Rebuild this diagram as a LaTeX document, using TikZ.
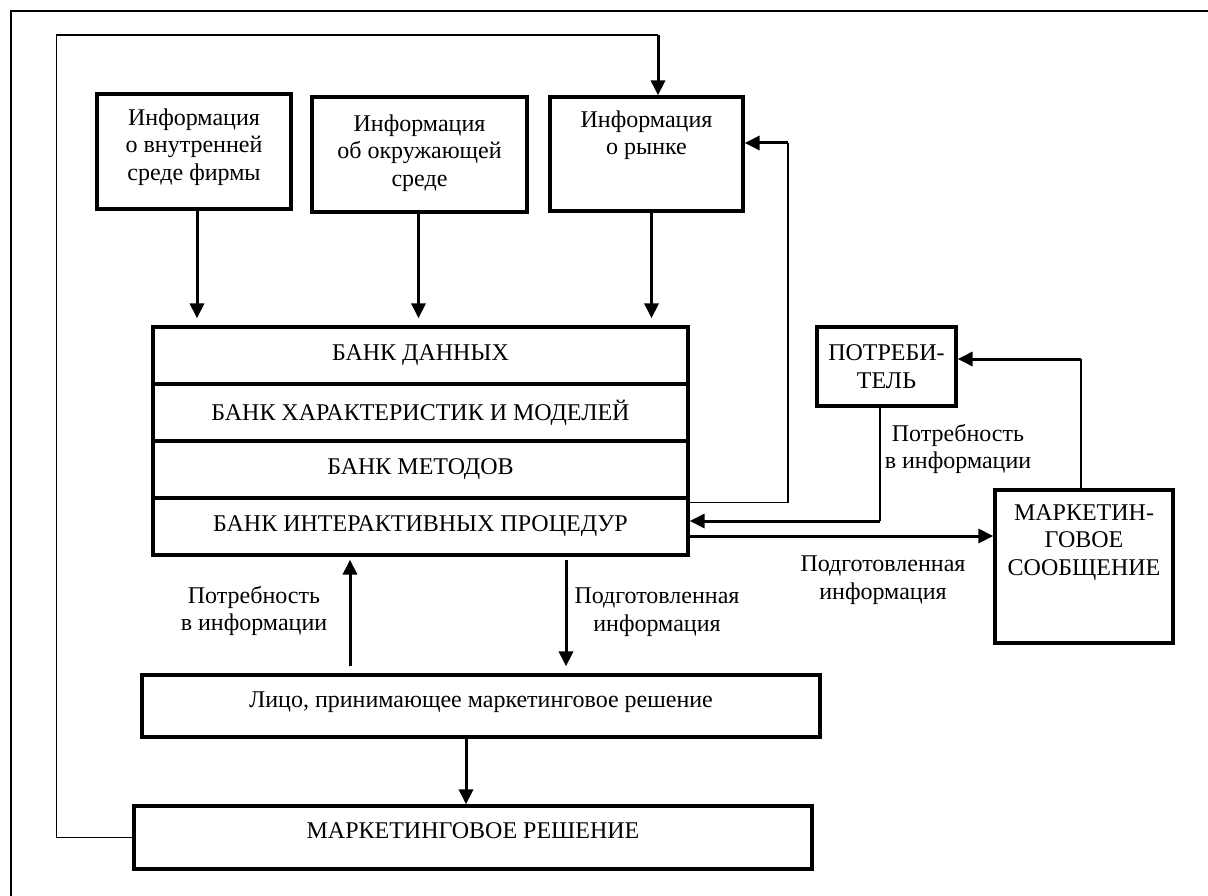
\documentclass[tikz,border=0pt]{standalone}
\usepackage{fontspec}
\setmainfont{Liberation Serif}
\usetikzlibrary{arrows.meta,positioning}

\begin{document}
\begin{tikzpicture}[x=1pt,y=-1pt,
  box/.style={draw, line width=3.2pt, inner sep=0pt},
  txt/.style={align=center, inner sep=0pt, font=\fontsize{24}{27.5}\selectfont},
  wire/.style={line width=1.3pt},
  flow/.style={line width=3pt, -{Triangle[length=15pt,width=14pt]}}]
\useasboundingbox (0,0) rectangle (1208,896);
\draw[line width=2pt] (11,896) -- (11,11) -- (1208,11);

% sources of information
\node[box, minimum width=194, minimum height=115] (inf1) at (194,151.5) {};
\node[box, minimum width=215, minimum height=115] (inf2) at (419.5,154.5) {};
\node[box, minimum width=193, minimum height=114] (inf3) at (646.5,154) {};
\node[txt, below=16pt of inf1.north] (inf1t) {Информация\\о внутренней\\среде фирмы};
\node[txt, below=19pt of inf2.north] (inf2t) {Информация\\об окружающей\\среде};
\node[txt, below=15pt of inf3.north] (inf3t) {Информация\\о рынке};

% banks
\foreach \i/\t in {1/БАНК ДАННЫХ,2/БАНК ХАРАКТЕРИСТИК И МОДЕЛЕЙ,3/БАНК МЕТОДОВ,4/БАНК ИНТЕРАКТИВНЫХ ПРОЦЕДУР} {
\node[box, txt, minimum width=535, minimum height=57] (bank\i) at (420.5,298.5+57*\i) {\t};
}

\node[box, txt, text depth=12pt, minimum width=678, minimum height=62] (lico) at (481,706) {Лицо, принимающее маркетинговое решение};
\node[box, txt, text depth=13pt, minimum width=678, minimum height=63] (mr) at (473,837.5) {МАРКЕТИНГОВОЕ РЕШЕНИЕ};
\node[box, txt, minimum width=139, minimum height=79] (pot) at (886.5,366.5) {ПОТРЕБИ-\\ТЕЛЬ};
\node[box, minimum width=178, minimum height=153] (ms) at (1084,566.5) {};
\node[txt, below=16pt of ms.north] (mst) {МАРКЕТИН-\\ГОВОЕ\\СООБЩЕНИЕ};

\node[txt] (lblneed1) at (254,611) {Потребность\\в информации};
\node[txt] (lblprep1) at (657,612) {Подготовленная\\информация};
\node[txt] (lblneed2) at (958,449) {Потребность\\в информации};
\node[txt] (lblprep2) at (883,580) {Подготовленная\\информация};

\coordinate (loop) at (658,35);
\coordinate (ret) at (788,143);
\coordinate (need) at (880,521);
\coordinate (msg) at (1081,359);
\coordinate (up) at (350,0);
\coordinate (down) at (566,0);
\coordinate (dec) at (466,0);

\foreach \n/\s in {inf1/3,inf2/-1,inf3/5} {
\draw[flow, shorten >=7pt] ([xshift=\s pt]\n.south) -- ([xshift=\s pt]\n.south |- bank1.north);
}
\draw[wire] (mr.west) -- ++(-76,0) |- (loop);
\draw[flow] (loop) -- (loop |- inf3.north);
\draw[wire] ([yshift=-6pt]bank4.north east) -| (ret);
\draw[flow] (ret) -- (ret -| inf3.east);
\draw[wire] (pot.south -| need) -- (need);
\draw[flow] (need) -- (need -| bank4.east);
\draw[flow] ([yshift=-9.5pt]bank4.east) -- ([yshift=-9.5pt]bank4.east -| ms.west);
\draw[wire] (ms.north -| msg) -- (msg);
\draw[flow] (msg) -- (msg -| pot.east);
\draw[flow, shorten <=7pt, shorten >=3pt] (lico.north -| up) -- (bank4.south -| up);
\draw[flow, shorten <=3pt, shorten >=7pt] (bank4.south -| down) -- (lico.north -| down);
\draw[flow] (lico.south -| dec) -- (mr.north -| dec);
\end{tikzpicture}
\end{document}
